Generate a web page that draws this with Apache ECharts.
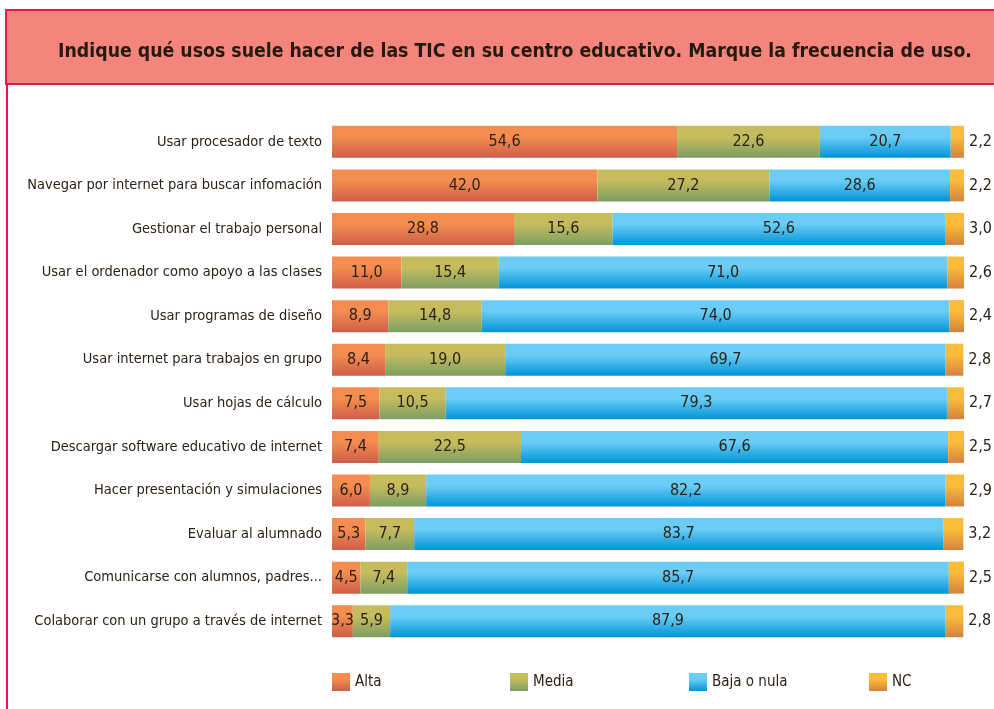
<!DOCTYPE html>
<html><head><meta charset="utf-8">
<script src="https://cdn.jsdelivr.net/npm/echarts@6/dist/echarts.min.js"></script>
<style>html,body{margin:0;padding:0;background:#fff}#c{width:994px;height:709px}</style>
</head><body><div id="c"></div>
<script>
const categories = [
  "Usar procesador de texto",
  "Navegar por internet para buscar infomación",
  "Gestionar el trabajo personal",
  "Usar el ordenador como apoyo a las clases",
  "Usar programas de diseño",
  "Usar internet para trabajos en grupo",
  "Usar hojas de cálculo",
  "Descargar software educativo de internet",
  "Hacer presentación y simulaciones",
  "Evaluar al alumnado",
  "Comunicarse con alumnos, padres...",
  "Colaborar con un grupo a través de internet"
];
const alta  = [54.6, 42.0, 28.8, 11.0, 8.9, 8.4, 7.5, 7.4, 6.0, 5.3, 4.5, 3.3];
const media = [22.6, 27.2, 15.6, 15.4, 14.8, 19.0, 10.5, 22.5, 8.9, 7.7, 7.4, 5.9];
const baja  = [20.7, 28.6, 52.6, 71.0, 74.0, 69.7, 79.3, 67.6, 82.2, 83.7, 85.7, 87.9];
const nc    = [2.2, 2.2, 3.0, 2.6, 2.4, 2.8, 2.7, 2.5, 2.9, 3.2, 2.5, 2.8];
const seriesNames = ["Alta", "Media", "Baja o nula", "NC"];
const titleText = "Indique qué usos suele hacer de las TIC en su centro educativo. Marque la frecuencia de uso.";

const FONT = '"Liberation Sans Narrow", "DejaVu Sans Condensed", Roboto, sans-serif';
const TXT = '#2b2219';
function grad(top, bottom){
  return new echarts.graphic.LinearGradient(0,0,0,1,[{offset:0,color:top},{offset:0.35,color:top},{offset:1,color:bottom}]);
}
const colors = [grad('#F48D4F','#CF5D4A'), grad('#C6BC5E','#7C9E62'), grad('#6BCDF6','#0094D8'), grad('#FBBC3A','#D3823F')];
const fmt = p => p.value.toFixed(1).replace('.', ',');
const datas = [alta, media, baja, nc];

const chart = echarts.init(document.getElementById('c'));
const series = datas.map((d, i) => ({
  name: seriesNames[i],
  type: 'bar',
  stack: 'total',
  barWidth: 32,
  data: d,
  itemStyle: { color: colors[i] },
  label: {
    show: true,
    position: i === 3 ? 'right' : 'inside',
    distance: 5,
    formatter: fmt,
    color: TXT,
    fontFamily: FONT,
    fontSize: 16
  }
}));

const legends = seriesNames.map((n, i) => ({
  data: [n],
  left: [327, 505, 684, 864][i],
  top: 668,
  itemWidth: 18,
  itemHeight: 18,
  itemGap: 6,
  icon: 'rect',
  textStyle: { color: TXT, fontFamily: FONT, fontSize: 15 }
}));

chart.setOption({
  animation: false,
  title: {
    text: titleText,
    left: 510,
    textAlign: 'center',
    top: 37,
    textStyle: { color: '#231a10', fontFamily: FONT, fontWeight: 'bold', fontSize: 19.3 }
  },
  graphic: [
    { type: 'rect', z: -1, shape: { x: 6, y: 10, width: 1000, height: 74 },
      style: { fill: '#F4857D', stroke: '#E8194F', lineWidth: 2 } },
    { type: 'line', z: -1, shape: { x1: 7, y1: 84, x2: 7, y2: 709 },
      style: { stroke: '#E8194F', lineWidth: 2 } }
  ],
  legend: legends,
  grid: { left: 332, right: 30, top: 120, bottom: 66, containLabel: false, outerBoundsMode: 'none' },
  xAxis: { type: 'value', min: 0, max: 100, show: false },
  yAxis: {
    type: 'category',
    data: categories,
    inverse: true,
    axisLine: { show: false },
    axisTick: { show: false },
    axisLabel: { color: TXT, fontFamily: FONT, fontSize: 14.5, margin: 10 }
  },
  series: series
});
</script>
</body></html>
